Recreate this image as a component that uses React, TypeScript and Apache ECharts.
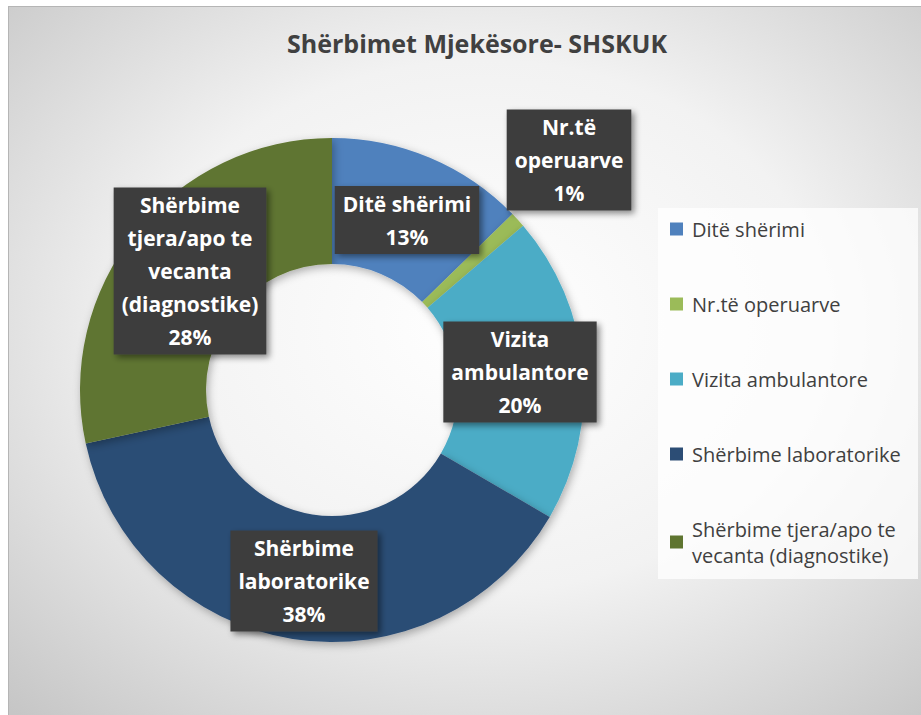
import React, { useEffect, useRef } from "react";
import * as echarts from "echarts";

const titleText = "Shërbimet Mjekësore- SHSKUK";
const categories = [
  "Ditë shërimi",
  "Nr.të operuarve",
  "Vizita ambulantore",
  "Shërbime laboratorike",
  "Shërbime tjera/apo te vecanta (diagnostike)",
];
const values = [12.7, 1.0, 19.7, 38.2, 28.4];
const labelNames = [
  "Ditë shërimi",
  "Nr.të\noperuarve",
  "Vizita\nambulantore",
  "Shërbime\nlaboratorike",
  "Shërbime\ntjera/apo te\nvecanta\n(diagnostike)",
];
const legendNames = [
  "Ditë shërimi",
  "Nr.të operuarve",
  "Vizita ambulantore",
  "Shërbime laboratorike",
  "Shërbime tjera/apo te\nvecanta (diagnostike)",
];
const colors = ["#4F81BD", "#9BBB59", "#4BACC6", "#2C4D75", "#5F7530"];
const labelCenters = [
  [398, 213],
  [560, 153],
  [511, 365],
  [295, 574],
  [181, 264],
];

const FONT = "'Open Sans', 'DejaVu Sans', sans-serif";

export default function App() {
  const ref = useRef<HTMLDivElement>(null);
  useEffect(() => {
    if (!ref.current) return;
    const chart = echarts.init(ref.current, undefined, { renderer: "svg" });
    chart.setOption({
      animation: false,
      backgroundColor: {
        type: "radial",
        x: 0.52,
        y: 0.45,
        r: 0.75,
        colorStops: [
          { offset: 0, color: "#ffffff" },
          { offset: 0.5, color: "#f2f2f2" },
          { offset: 1, color: "#c6c6c6" },
        ],
      },
      color: colors,
      title: {
        text: titleText,
        left: 463,
        textAlign: "center",
        top: 18,
        textStyle: {
          fontFamily: FONT,
          fontWeight: "bold",
          fontSize: 25,
          color: "#404040",
        },
      },
      graphic: [
        {
          type: "rect",
          left: 649,
          top: 201,
          shape: { width: 260, height: 371 },
          style: { fill: "rgba(255,255,255,0.75)" },
          z: 0,
        },
      ],
      legend: {
        orient: "vertical",
        left: 661,
        top: 209,
        padding: 0,
        itemWidth: 13,
        itemHeight: 13,
        itemGap: 49,
        icon: "rect",
        data: categories,
        formatter: (name: string) => legendNames[categories.indexOf(name)],
        textStyle: {
          fontFamily: FONT,
          fontSize: 20,
          lineHeight: 26,
          color: "#404040",
          padding: [0, 0, 0, 4],
        },
        z: 5,
      },
      series: [
        {
          type: "pie",
          center: [323, 383],
          radius: [126, 252],
          startAngle: 90,
          clockwise: true,
          data: categories.map((c, i) => ({ name: c, value: values[i] })),
          itemStyle: {
            shadowBlur: 8,
            shadowColor: "rgba(0,0,0,0.3)",
            shadowOffsetX: 2,
            shadowOffsetY: 3,
          },
          emphasis: { disabled: true },
          labelLine: { show: false },
          label: {
            show: true,
            position: "inside",
            formatter: (p: any) =>
              labelNames[p.dataIndex] + "\n" + Math.round(p.percent) + "%",
            fontFamily: FONT,
            fontWeight: "bold",
            fontSize: 21,
            lineHeight: 33,
            color: "#ffffff",
            align: "center",
            backgroundColor: "#3d3d3d",
            padding: [1, 8],
            shadowColor: "rgba(0,0,0,0.45)",
            shadowBlur: 6,
            shadowOffsetX: 3,
            shadowOffsetY: 3,
          },
          labelLayout: (params: any) => {
            const c = labelCenters[params.dataIndex];
            return {
              x: c[0],
              y: c[1],
              align: "center",
              verticalAlign: "middle",
            };
          },
        },
      ],
    });
    return () => chart.dispose();
  }, []);
  return (
    <div
      ref={ref}
      style={{
        position: "absolute",
        left: 8,
        top: 6,
        width: 913,
        height: 709,
        borderTop: "1px solid #b5b5b5",
        borderLeft: "1px solid #b5b5b5",
        boxSizing: "border-box",
      }}
    />
  );
}
